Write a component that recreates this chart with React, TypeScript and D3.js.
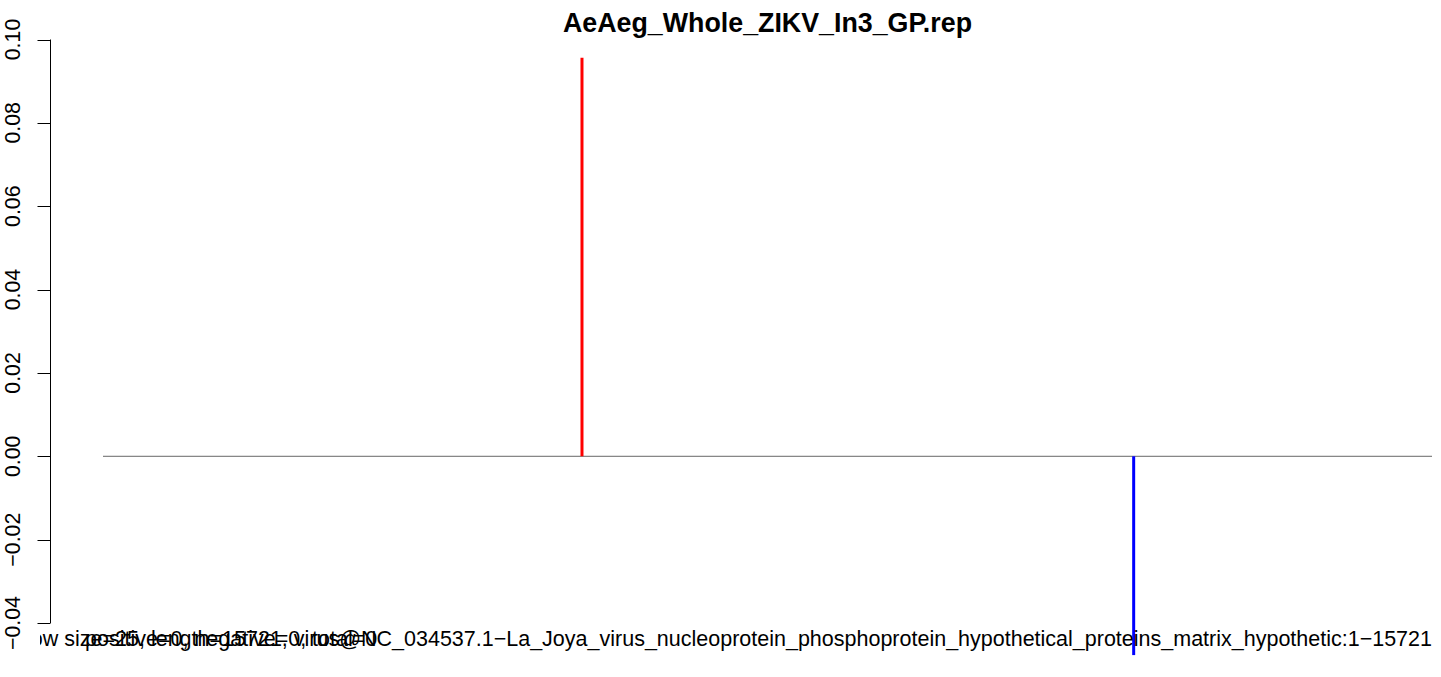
import React from "react";
import * as d3 from "d3";

const chartTitle = "AeAeg_Whole_ZIKV_In3_GP.rep";
const seqLength = 15721;
const yTicks = [-0.04, -0.02, 0.0, 0.02, 0.04, 0.06, 0.08, 0.1];
const positiveSites = [5666];
const positiveValues = [0.0956];
const negativeSites = [12192];
const negativeValues = [-0.0477];
const xlabMain =
  "window size=25, length=15721, virus@NC_034537.1\u2212La_Joya_virus_nucleoprotein_phosphoprotein_hypothetical_proteins_matrix_hypothetic:1\u221215721";
const xlabCounts = "positive=0, negative=0, total=0";

const W = 1441;
const H = 677;

export default function App() {
  const x = d3.scaleLinear().domain([0, seqLength]).range([103, 1432]);
  const y = d3.scaleLinear().domain([-0.04, 0.1]).range([623, 39.5]);
  const fmt = (v: number) => d3.format(".2f")(v).replace("-", "\u2212");
  const font = "'Liberation Sans', Arial, Helvetica, sans-serif";
  const axisX = 50.5;
  const fs = 21.33;
  const fsx = 21.5;
  return (
    <svg
      width={W}
      height={H}
      style={{ position: "absolute", left: 0, top: 0, background: "#fff" }}
      fontFamily={font}
    >
      <defs>
        <clipPath id="plotclip">
          <rect x={40} y={0} width={W - 40} height={H} />
        </clipPath>
      </defs>
      <rect x={0} y={0} width={W} height={H} fill="#fff" />
      <text x={767.5} y={32} textAnchor="middle" fontWeight="bold" fontSize={26.8} fill="#000">
        {chartTitle}
      </text>
      {/* y axis */}
      <line x1={axisX} x2={axisX} y1={y(0.1)} y2={y(-0.04)} stroke="#000" strokeWidth={1} />
      {yTicks.map((t) => (
        <g key={t}>
          <line x1={37.5} x2={axisX} y1={Math.round(y(t)) + 0.5} y2={Math.round(y(t)) + 0.5} stroke="#000" />
          <text
            x={20}
            y={y(t)}
            transform={`rotate(-90, 20, ${y(t)})`}
            textAnchor="middle"
            fontSize={fs}
            fill="#000"
          >
            {fmt(t)}
          </text>
        </g>
      ))}
      {/* zero line */}
      <line x1={x(0)} x2={x(seqLength)} y1={y(0)} y2={y(0)} stroke="#666" strokeWidth={1} />
      {positiveSites.map((s, i) => (
        <line key={"p" + i} x1={x(s)} x2={x(s)} y1={y(0)} y2={y(positiveValues[i])} stroke="#ff0000" strokeWidth={3} />
      ))}
      {negativeSites.map((s, i) => (
        <line key={"n" + i} x1={x(s)} x2={x(s)} y1={y(0)} y2={y(negativeValues[i])} stroke="#0000ff" strokeWidth={3} />
      ))}
      <g clipPath="url(#plotclip)">
        <text x={1432} y={646} textAnchor="end" fontSize={fsx} fill="#000">
          {xlabMain}
        </text>
        <text x={85} y={646} fontSize={fsx} fill="#000">
          {xlabCounts}
        </text>
      </g>
    </svg>
  );
}
